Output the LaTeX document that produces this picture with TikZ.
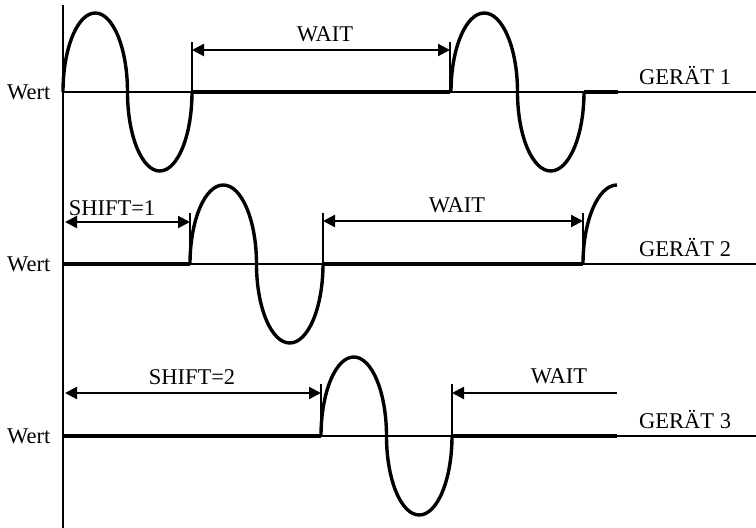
\documentclass[tikz,border=0pt]{standalone}
\usepackage{fontspec}
\setmainfont{Liberation Serif}
\usetikzlibrary{arrows.meta}

\tikzset{
  axisline/.style={line width=2.8pt},
  nullline/.style={line width=2.2pt},
  waitline/.style={line width=3.8pt},
  wave/.style={line width=3.4pt, line join=round},
  tickline/.style={line width=2pt},
  span/.style={line width=2.2pt,
    {Triangle[length=12pt,width=12pt]}-{Triangle[length=12pt,width=12pt]}},
  lefttip/.style={line width=2.2pt, {Triangle[length=12pt,width=12pt]}-},
  lbl/.style={font=\fontsize{22.5}{26}\selectfont, inner sep=0pt},
}

\begin{document}
\begin{tikzpicture}[x=1pt, y=-1pt]
  \useasboundingbox (0,0) rectangle (756,528);

  % value axis
  \draw[axisline] (63,5) -- (63,528);

  % time line of every device
  \foreach \yb/\n in {92/1, 264/2, 436/3} {
    \draw[nullline] (63,\yb) -- (756,\yb);
    \node[lbl, anchor=base west] (wert\n) at (7,\yb+7) {Wert};
    \node[lbl, anchor=base west] (geraet\n) at (639,\yb-8) {GERÄT \n};
  }

  % idle phases (shift and wait)
  \draw[waitline] (192,92) -- (450,92)  (584,92) -- (618,92);
  \draw[waitline] (63,264) -- (190,264)  (323,264) -- (583,264);
  \draw[waitline] (63,436) -- (321,436)  (452,436) -- (617,436);

  % one full period per send, two half ellipses
  \foreach \xa/\xb/\yb in {63/192/92, 451/584/92, 190/323/264, 321/452/436} {
    \pgfmathsetmacro\rx{(\xb-\xa)/4}
    \draw[wave] (\xa,\yb)
      arc[start angle=180, end angle=0, x radius=\rx pt, y radius=79pt]
      arc[start angle=180, end angle=360, x radius=\rx pt, y radius=79pt];
  }
  \draw[wave] (583,264) arc[start angle=180, end angle=90, x radius=34pt, y radius=79pt];

  % limits of the phases
  \foreach \xt/\ya/\yb in {192/42/92, 450/42/92, 190/213/264, 323/213/264,
                           583/213/264, 321/384/436, 452/384/436}
    \draw[tickline] (\xt,\ya) -- (\xt,\yb);

  % GERAET 1
  \coordinate (w1a) at (192,50);
  \coordinate (w1b) at (450,50);
  \draw[span] (w1a) -- (w1b);
  \node[lbl, anchor=base] (wait1) at (325,41) {WAIT};

  % GERAET 2
  \coordinate (s2a) at (65,222);
  \coordinate (s2b) at (190,222);
  \draw[span] (s2a) -- (s2b);
  \node[lbl, anchor=base] (shift1) at (112,215) {SHIFT=1};
  \coordinate (w2a) at (323,221);
  \coordinate (w2b) at (583,221);
  \draw[span] (w2a) -- (w2b);
  \node[lbl, anchor=base] (wait2) at (457,212) {WAIT};

  % GERAET 3
  \coordinate (s3a) at (65,393);
  \coordinate (s3b) at (321,393);
  \draw[span] (s3a) -- (s3b);
  \node[lbl, anchor=base] (shift2) at (192,384) {SHIFT=2};
  \coordinate (w3a) at (452,393);
  \coordinate (w3b) at (617,393);
  \draw[lefttip] (w3a) -- (w3b);
  \node[lbl, anchor=base] (wait3) at (559,383) {WAIT};
\end{tikzpicture}
\end{document}
